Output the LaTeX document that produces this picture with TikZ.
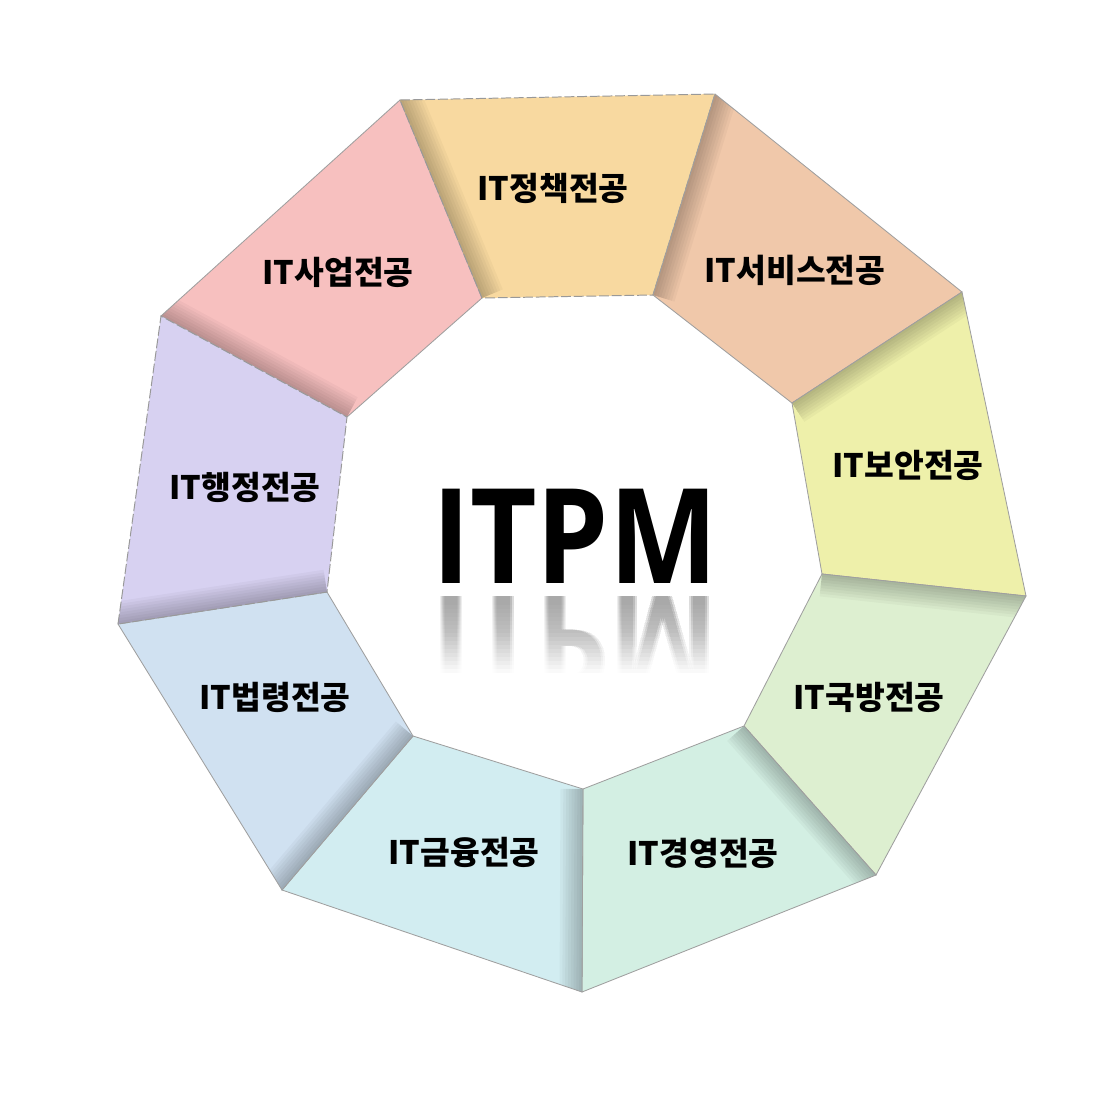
\documentclass[tikz,border=0pt]{standalone}
\usepackage{fontspec}
\newfontfamily\krfont{Noto Sans CJK KR}
\newfontfamily\titlefont{Open Sans}
\usetikzlibrary{calc}

\definecolor{cSaeop}{HTML}{F7C0BF}
\definecolor{cJeongchaek}{HTML}{F8D9A0}
\definecolor{cService}{HTML}{F0C8AA}
\definecolor{cBoan}{HTML}{EEF0AA}
\definecolor{cGukbang}{HTML}{DDEFD0}
\definecolor{cGyeongyeong}{HTML}{D3EFE3}
\definecolor{cGeumyung}{HTML}{D2EDF1}
\definecolor{cBeopryeong}{HTML}{D0E1F1}
\definecolor{cHaengjeong}{HTML}{D7D1F1}

\begin{document}
\begin{tikzpicture}[x=0.025cm,y=-0.025cm,
    seg/.style={draw=gray!75,line width=0.6pt},
    segdash/.style={draw=gray!80,line width=0.7pt,dash pattern=on 7pt off 2pt},
    lbl/.style={font=\krfont\bfseries\fontsize{23}{23}\selectfont,text=black},
    title/.style={font=\titlefont\bfseries\fontsize{94}{94}\selectfont,anchor=base,xscale=0.87}]
  \useasboundingbox (0,0) rectangle (1100,1101);

  % outer corners
  \coordinate (oA) at (400,100);
  \coordinate (oB) at (715,94);
  \coordinate (oC) at (962,292);
  \coordinate (oD) at (1026,596);
  \coordinate (oE) at (876,875);
  \coordinate (oF) at (582,992);
  \coordinate (oG) at (282,890);
  \coordinate (oH) at (118,624);
  \coordinate (oI) at (161,316);
  % inner corners
  \coordinate (iA) at (482,298);
  \coordinate (iB) at (653,295);
  \coordinate (iC) at (792,403);
  \coordinate (iD) at (822,574);
  \coordinate (iE) at (744,726);
  \coordinate (iF) at (583,789);
  \coordinate (iG) at (413,736);
  \coordinate (iH) at (327,592);
  \coordinate (iI) at (347,417);

  % segments, clockwise
  \foreach \a/\b/\c/\d/\col/\sty in {
      oI/oA/iA/iI/cSaeop/seg, oA/oB/iB/iA/cJeongchaek/segdash,
      oB/oC/iC/iB/cService/seg, oC/oD/iD/iC/cBoan/seg,
      oD/oE/iE/iD/cGukbang/seg, oE/oF/iF/iE/cGyeongyeong/seg,
      oF/oG/iG/iF/cGeumyung/seg, oG/oH/iH/iG/cBeopryeong/seg,
      oH/oI/iI/iH/cHaengjeong/segdash} {
    \fill[\col] (\a) -- (\b) -- (\c) -- (\d) -- cycle;
    % fold shadow on the left edge
    \begin{scope}
      \clip (\a) -- (\b) -- (\c) -- (\d) -- cycle;
      \foreach \w in {1,...,8}
        \draw[black,opacity=0.03,line width=\w*4pt] (\a) -- (\d);
    \end{scope}
    \draw[\sty] (\a) -- (\b) -- (\c) -- (\d) -- cycle;
  }

  % labels
  \node[lbl] (saeop) at (338,272) {IT사업전공};
  \node[lbl] (jeongchaek) at (553,188) {IT정책전공};
  \node[lbl] (service) at (795,270) {IT서비스전공};
  \node[lbl] (boan) at (908,465) {IT보안전공};
  \node[lbl] (gukbang) at (869,697) {IT국방전공};
  \node[lbl] (gyeongyeong) at (703,853) {IT경영전공};
  \node[lbl] (geumyung) at (464,852) {IT금융전공};
  \node[lbl] (beopryeong) at (275,697) {IT법령전공};
  \node[lbl] (haengjeong) at (245,487) {IT행정전공};

  % title and its reflection
  \node[title] (itpm) at (575,583) {ITPM};
  \foreach \k in {0,...,17} \foreach \dx in {-2,0,2} {
    \begin{scope}
      \clip (420,590) rectangle (740,{604+\k*4});
      \node[title,text=black,opacity=0.006,yscale=-1] (itpmrefl) at (575+\dx,596) {ITPM};
    \end{scope}
  }
\end{tikzpicture}
\end{document}
